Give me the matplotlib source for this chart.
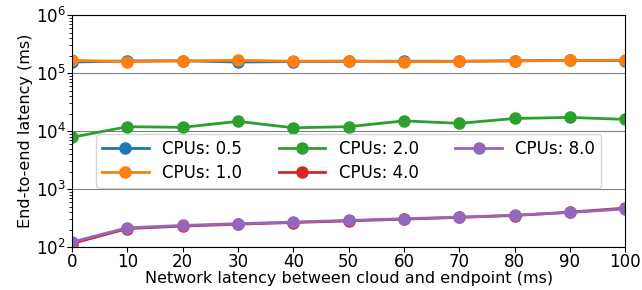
import numpy as np
import matplotlib.pyplot as plt

latency = [0, 10, 20, 30, 40, 50, 60, 70, 80, 90, 100]

cpu_05 = [1.55e5, 1.62e5, 1.63e5, 1.55e5, 1.58e5, 1.6e5, 1.6e5, 1.6e5, 1.63e5, 1.66e5, 1.64e5]
cpu_10 = [1.66e5, 1.58e5, 1.62e5, 1.66e5, 1.6e5, 1.61e5, 1.57e5, 1.59e5, 1.62e5, 1.65e5, 1.66e5]
cpu_20 = [7.8e3, 1.19e4, 1.16e4, 1.47e4, 1.14e4, 1.19e4, 1.5e4, 1.36e4, 1.65e4, 1.72e4, 1.59e4]
cpu_40 = [1.15e2, 2.08e2, 2.3e2, 2.48e2, 2.65e2, 2.83e2, 3.03e2, 3.25e2, 3.5e2, 4.0e2, 4.7e2]
cpu_80 = [1.22e2, 2.15e2, 2.36e2, 2.53e2, 2.7e2, 2.88e2, 3.08e2, 3.28e2, 3.55e2, 3.95e2, 4.55e2]

series = [("CPUs: 0.5", cpu_05, "tab:blue"),
          ("CPUs: 1.0", cpu_10, "tab:orange"),
          ("CPUs: 2.0", cpu_20, "tab:green"),
          ("CPUs: 4.0", cpu_40, "tab:red"),
          ("CPUs: 8.0", cpu_80, "tab:purple")]

fig, ax = plt.subplots(figsize=(6.42, 2.9), dpi=100)
for label, vals, col in series:
    ax.plot(latency, vals, marker='o', markersize=8, linewidth=2, color=col, label=label)

ax.set_yscale('log')
ax.set_ylim(1e2, 1e6)
ax.set_xlim(0, 100)
ax.set_xticks(latency)
ax.tick_params(labelsize=12, pad=1)
ax.grid(True, axis='y', which='major', color='gray', linewidth=0.8)
ax.set_xlabel('Network latency between cloud and endpoint (ms)', fontsize=11.5, labelpad=0)
ax.set_ylabel('End-to-end latency (ms)', fontsize=11.5, labelpad=2)
ax.legend(ncol=3, fontsize=12, loc='center', bbox_to_anchor=(0.5, 0.37),
          handlelength=2.8, columnspacing=2.2, borderpad=0.35, labelspacing=0.35)

fig.subplots_adjust(left=0.112, right=0.974, top=0.948, bottom=0.148)
fig.savefig('out.png', dpi=100)
